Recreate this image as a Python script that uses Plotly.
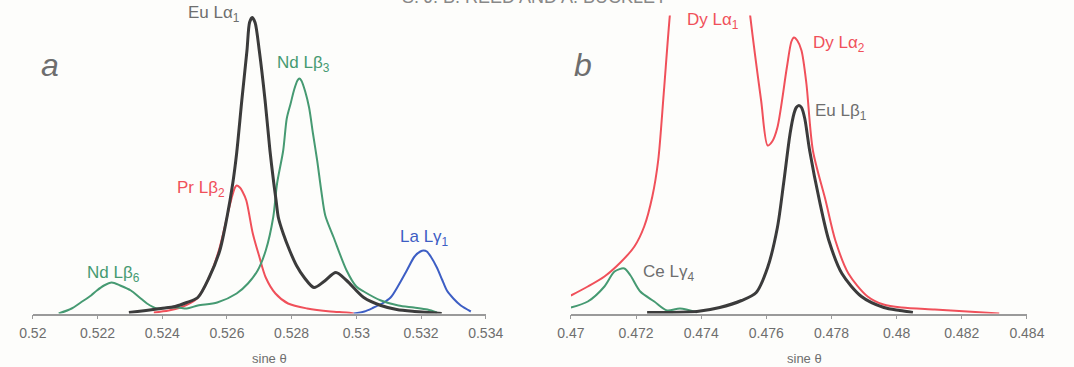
import plotly.graph_objects as go

# ---------------- data (sine theta, relative intensity) ----------------
# Panel a
a_nd_x = [0.5208, 0.5212, 0.52148, 0.5218, 0.52198, 0.5222, 0.52244, 0.5227, 0.52303, 0.5233,
          0.52353, 0.52383, 0.5242, 0.5245, 0.52476, 0.5251, 0.5257, 0.5263, 0.52665, 0.52695,
          0.5272, 0.52743, 0.52755, 0.52774, 0.52785, 0.52797, 0.52808, 0.52818, 0.52824, 0.5283,
          0.52842, 0.52854, 0.52866, 0.52879, 0.52892, 0.52904, 0.5293, 0.5297, 0.5300, 0.53023,
          0.53076, 0.5313, 0.53178, 0.5322, 0.53249]
a_nd_y = [0, 5, 11, 18, 23, 28, 31, 28, 23, 16,
          10, 5, 6, 6, 5, 8, 11, 20, 30, 43,
          63, 96, 130, 163, 195, 210, 224, 233, 235, 233,
          222, 206, 180, 153, 122, 98, 76, 43, 27, 22,
          13, 8, 6, 4, 1]

a_eu_x = [0.52297, 0.5235, 0.52396, 0.5244, 0.52476, 0.5251, 0.52545, 0.52578, 0.5260, 0.52618,
          0.5263, 0.52646, 0.52662, 0.5267, 0.52678, 0.52687, 0.527, 0.52718, 0.52733, 0.52745,
          0.52752, 0.52759, 0.52774, 0.52794, 0.52815, 0.52839, 0.52869, 0.529, 0.52937, 0.5297,
          0.53023, 0.53076, 0.53125, 0.5318, 0.53264]
a_eu_y = [1, 3, 5, 7, 11, 16, 36, 63, 96, 130,
          160, 213, 263, 291, 296, 291, 263, 213, 163, 130,
          113, 96, 80, 63, 48, 36, 26, 32, 41, 33,
          16, 8, 4, 2, 0]

a_pr_x = [0.52374, 0.5242, 0.52457, 0.52485, 0.5251, 0.52545, 0.52575, 0.526, 0.52615, 0.52625,
          0.5263, 0.5264, 0.52648, 0.5266, 0.5268, 0.527, 0.5272, 0.5275, 0.52789, 0.52848,
          0.5292, 0.5297, 0.52992]
a_pr_y = [1, 3, 6, 10, 16, 36, 63, 96, 116, 126,
          128, 126, 122, 113, 80, 57, 36, 20, 10, 5,
          2, 1, 0]

a_la_x = [0.52992, 0.53025, 0.53054, 0.5308, 0.53106, 0.5313, 0.53156, 0.5318, 0.53198, 0.53208,
          0.53218, 0.5323, 0.53249, 0.53265, 0.5328, 0.533, 0.53323, 0.53354]
a_la_y = [0, 2, 6, 10, 16, 28, 43, 57, 62, 63,
          62, 57, 46, 34, 23, 15, 8, 2]

# Panel b
b_dy_x = [0.47, 0.47052, 0.47103, 0.47152, 0.47195, 0.47225, 0.4725, 0.47268, 0.47285, 0.47304,
          0.4735, 0.4743, 0.4750, 0.4755, 0.47584, 0.47604, 0.47618, 0.47634, 0.47663, 0.47677,
          0.47685, 0.47695, 0.47708, 0.47723, 0.47743, 0.47782, 0.47812, 0.47852, 0.47911, 0.47960,
          0.48016, 0.48117, 0.48217, 0.48315]
b_dy_y = [18, 27, 37, 51, 67, 87, 117, 153, 220, 299,
          450, 560, 450, 299, 213, 168, 172, 186, 246, 272,
          276, 273, 263, 230, 163, 113, 73, 40, 17, 9,
          6, 4, 2, 0]

b_eu_x = [0.47234, 0.4730, 0.47387, 0.47457, 0.47524, 0.47569, 0.47604, 0.47634, 0.47653, 0.47673,
          0.47685, 0.47692, 0.477, 0.47708, 0.47718, 0.47733, 0.47763, 0.47792, 0.47832, 0.47892,
          0.47961, 0.4801, 0.4805]
b_eu_y = [1, 1, 2, 6, 13, 21, 46, 86, 130, 180,
          200, 206, 208, 206, 195, 163, 113, 73, 40, 17,
          6, 3, 1]

b_ce_x = [0.47, 0.47052, 0.47103, 0.47134, 0.47164, 0.47183, 0.47213, 0.47256, 0.47295, 0.47335, 0.47387]
b_ce_y = [6, 12, 27, 42, 45, 38, 22, 12, 3, 5, 1]

a_ticks = [0.52, 0.522, 0.524, 0.526, 0.528, 0.53, 0.532, 0.534]
a_ticktext = ["0.52", "0.522", "0.524", "0.526", "0.528", "0.53", "0.532", "0.534"]
b_ticks = [0.47, 0.472, 0.474, 0.476, 0.478, 0.48, 0.482, 0.484]
b_ticktext = ["0.47", "0.472", "0.474", "0.476", "0.478", "0.48", "0.482", "0.484"]

# ---------------- styling ----------------
W, H = 1074, 367
BLACK = "#3b3b3b"
GREEN = "#469a72"
RED = "#f0505a"
BLUE = "#3d5ec4"
GRAY = "#6e6e6e"
FONT = "Liberation Sans, Arial, sans-serif"


def px(x):
    return x / W


def py(y):
    return 1 - y / H


fig = go.Figure()


def add(x, y, color, width, axis):
    fig.add_trace(go.Scatter(x=x, y=y, mode="lines",
                             line=dict(color=color, width=width, shape="spline", smoothing=0.8),
                             xaxis="x" if axis == 1 else "x2",
                             yaxis="y" if axis == 1 else "y2",
                             hoverinfo="skip", showlegend=False))


add(a_pr_x, a_pr_y, RED, 2, 1)
add(a_la_x, a_la_y, BLUE, 2, 1)
add(a_nd_x, a_nd_y, GREEN, 2, 1)
add(a_eu_x, a_eu_y, BLACK, 3, 1)

add(b_dy_x, b_dy_y, RED, 2, 2)
add(b_ce_x, b_ce_y, GREEN, 2, 2)
add(b_eu_x, b_eu_y, BLACK, 3, 2)

ydom = [py(313.5), py(15.5)]
xaxis_common = dict(showgrid=False, zeroline=False, showline=True, linecolor="#9a9a9a",
                    linewidth=1.5, ticks="outside", ticklen=4, tickcolor="#9a9a9a",
                    tickwidth=1.2, tickfont=dict(family=FONT, size=14, color=GRAY),
                    ticklabelstandoff=2, fixedrange=True)

fig.update_layout(
    width=W, height=H,
    margin=dict(l=0, r=0, t=0, b=0),
    paper_bgcolor="#fdfdfb", plot_bgcolor="rgba(0,0,0,0)",
    xaxis=dict(domain=[px(19.4), px(486.2)], range=[0.52, 0.534], tickvals=a_ticks,
               ticktext=a_ticktext, anchor="y", **xaxis_common),
    yaxis=dict(domain=ydom, range=[0, 298], visible=False, fixedrange=True),
    xaxis2=dict(domain=[px(574), px(1044)], range=[0.47, 0.484], tickvals=b_ticks,
                ticktext=b_ticktext, anchor="y2", **xaxis_common),
    yaxis2=dict(domain=ydom, range=[0, 298], visible=False, fixedrange=True),
)


def label(text, cx, cy, color, size=17, italic=False):
    fig.add_annotation(x=px(cx), y=py(cy), xref="paper", yref="paper",
                       text=f"<i>{text}</i>" if italic else text, showarrow=False,
                       xanchor="center", yanchor="middle",
                       font=dict(family=FONT, size=size, color=color))


label("Eu Lα<sub>1</sub>", 206, 14, GRAY)
label("Nd Lβ<sub>3</sub>", 298, 64, GREEN)
label("Pr Lβ<sub>2</sub>", 192.5, 189, RED)
label("La Lγ<sub>1</sub>", 423.6, 238, BLUE)
label("Nd Lβ<sub>6</sub>", 102.3, 274, GREEN)
label("a", 37, 65, GRAY, size=32, italic=True)

label("Dy Lα<sub>1</sub>", 720.5, 21, RED)
label("Dy Lα<sub>2</sub>", 850.6, 44, RED)
label("Eu Lβ<sub>1</sub>", 852.5, 112, GRAY)
label("Ce Lγ<sub>4</sub>", 675, 273, GRAY)
label("b", 586, 65, GRAY, size=32, italic=True)

label("sine θ", 263, 358.5, GRAY, size=13)
label("sine θ", 815, 358.5, GRAY, size=13)

fig.add_annotation(x=px(536), y=py(9), xref="paper", yref="paper",
                   text="S. J. B. REED AND A. BUCKLEY", showarrow=False,
                   xanchor="center", yanchor="bottom",
                   font=dict(family=FONT, size=18, color="#888888"))

fig.write_html("out.html", config={"displayModeBar": False},
               post_script="document.body.style.margin='0';"
                           "document.body.style.overflow='hidden';")
